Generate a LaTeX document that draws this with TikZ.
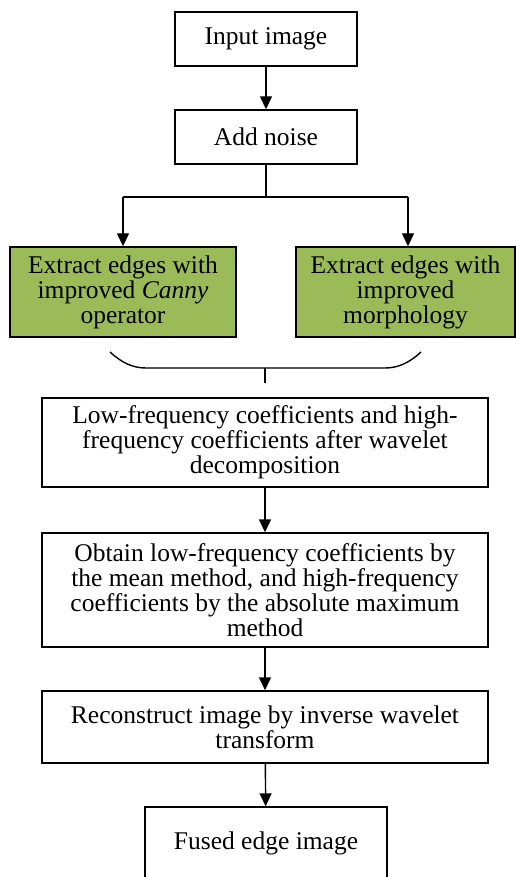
\documentclass[tikz,border=0pt]{standalone}
\usepackage{fontspec}
\setmainfont{Liberation Serif}
\usetikzlibrary{arrows.meta}
\definecolor{leafgreen}{RGB}{155,187,89}

\begin{document}
\begin{tikzpicture}[x=1pt,y=-1pt,
	box/.style={draw, line width=1.4pt, align=center, inner sep=0pt, font=\fontsize{25.5pt}{25pt}\selectfont},
	greenbox/.style={box, fill=leafgreen},
	arr/.style={line width=1.4pt, -{Triangle[length=13pt,width=12pt]}},
	link/.style={line width=1.4pt}]
	\useasboundingbox (0,0) rectangle (516,877);

	\node[box, minimum width=182pt, minimum height=54pt] (input) at (266,39) {Input image};
	\node[box, minimum width=182pt, minimum height=54pt] (noise) at (266,137) {Add noise};
	\node[greenbox, minimum width=226pt, minimum height=90pt] (canny) at (123,292) {Extract edges with\\improved \textit{Canny}\\operator};
	\node[greenbox, minimum width=219pt, minimum height=90pt] (morph) at (405.5,292) {Extract edges with\\improved\\morphology};
	\node[box, minimum width=446pt, minimum height=89pt] (lowhigh) at (265,442.5) {Low-frequency coefficients and high-\\frequency coefficients after wavelet\\decomposition};
	\node[box, minimum width=446pt, minimum height=114pt] (obtain) at (265,590) {Obtain low-frequency coefficients by\\the mean method, and high-frequency\\coefficients by the absolute maximum\\method};
	\node[box, minimum width=446pt, minimum height=72pt] (recon) at (265,727) {Reconstruct image by inverse wavelet\\transform};
	\node[box, minimum width=242pt, minimum height=72pt] (fused) at (266,843) {Fused edge image};

	\coordinate (split) at (266,197);
	\coordinate (splitL) at (123,197);
	\coordinate (splitR) at (408,197);
	\coordinate (braceL) at (110,352);
	\coordinate (braceR) at (421,352);
	\coordinate (braceM) at (265,368);
	\coordinate (braceT) at (265,383);

	\draw[arr] (input) -- (noise);
	\draw[link] (noise.south) -- (split);
	\draw[link] (splitL) -- (splitR);
	\draw[arr] (splitL) -- (canny.north -| splitL);
	\draw[arr] (splitR) -- (morph.north -| splitR);

	% brace joining the two edge maps
	\draw[link] (braceL) .. controls (122,363) and (133,368) .. (146,368) -- (385,368) .. controls (398,368) and (409,363) .. (braceR);
	\draw[link] (braceM) -- (braceT);

	\draw[arr] (lowhigh) -- (obtain);
	\draw[arr] (obtain) -- (recon);
	\draw[arr] (recon) -- (fused);
\end{tikzpicture}
\end{document}
